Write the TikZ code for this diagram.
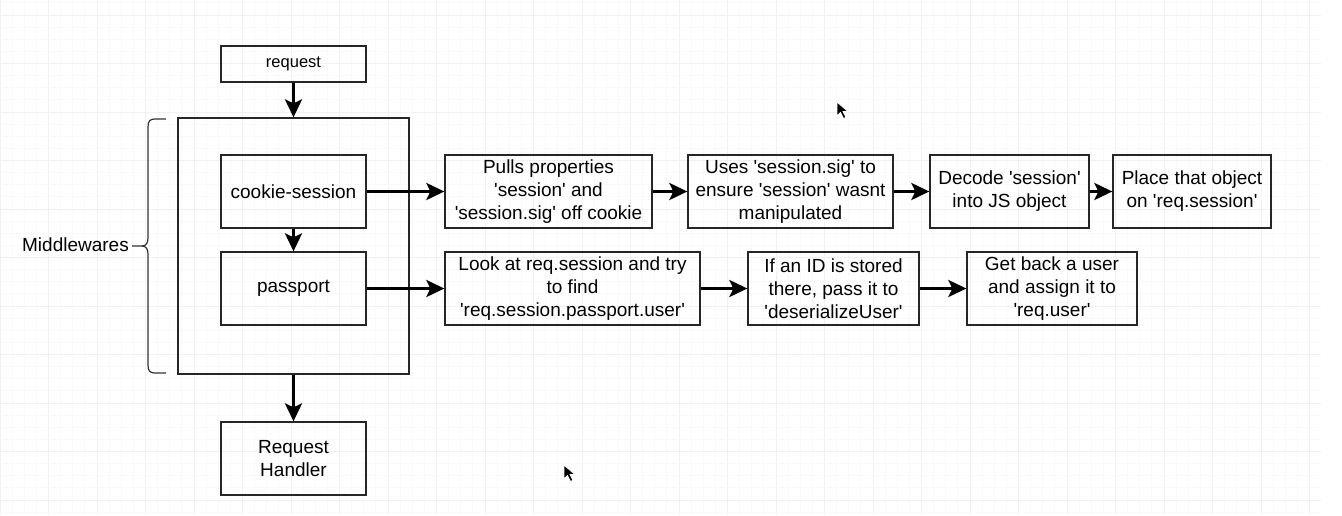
\documentclass[tikz,border=0pt]{standalone}
\usepackage{fontspec}
\setmainfont{Liberation Sans}[Ligatures=TeXOff]
\usetikzlibrary{arrows.meta,positioning}

\tikzset{
  box/.style={draw=black!85, line width=1.3pt, minimum height=73pt, align=center, inner sep=0pt, font=\fontsize{19}{23}\selectfont},
  arr/.style={line width=3pt, -{Stealth[length=18pt,width=17pt,inset=4pt]}},
  minorgrid/.style={draw=gray!5, line width=0.8pt},
  majorgrid/.style={draw=gray!11, line width=1pt}
}

\begin{document}
\begin{tikzpicture}[x=1pt,y=-1pt]
\useasboundingbox (0,0) rectangle (1342,515);

% grid
\foreach \i in {0,...,108} {
  \pgfmathtruncatemacro{\m}{mod(\i,4)}
  \ifnum\m=0 \draw[majorgrid] (\i*12.125,0) -- (\i*12.125,515);
  \else \draw[minorgrid] (\i*12.125,0) -- (\i*12.125,515); \fi
}
\foreach \i in {0,...,42} {
  \pgfmathtruncatemacro{\m}{mod(\i,4)}
  \ifnum\m=1 \draw[majorgrid] (0,2.875+\i*12.125) -- (1321,2.875+\i*12.125);
  \else \draw[minorgrid] (0,2.875+\i*12.125) -- (1321,2.875+\i*12.125); \fi
}

% nodes
\node[box, minimum width=231pt, minimum height=256pt] (mw) at (293.5,246) {};
\node[box, minimum width=145pt, minimum height=36pt, font=\fontsize{16.5}{20}\selectfont] (req) at (293.5,64) {request};
\node[box, minimum width=145pt] (cs) at (293.5,191.5) {cookie-session};
\node[box, minimum width=145pt] (pp) at (293.5,288.5) {passport};
\node[box, minimum width=145pt] (rh) at (293.5,458.5) {Request\\Handler};
\node[anchor=east, font=\fontsize{19}{23}\selectfont, inner sep=0pt] (mwl) at (129,245) {Middlewares};

\node[box, minimum width=207pt] (c1) at (548.5,191.5) {Pulls properties\\'session' and\\'session.sig' off cookie};
\node[box, minimum width=205pt] (c2) at (790.5,191.5) {Uses 'session.sig' to\\ensure 'session' wasnt\\manipulated};
\node[box, minimum width=159pt] (c3) at (1009.5,191.5) {Decode 'session'\\into JS object};
\node[box, minimum width=158pt] (c4) at (1192,191.5) {Place that object\\on 'req.session'};

\node[box, minimum width=255pt] (p1) at (572.5,288.5) {Look at req.session and try\\to find\\'req.session.passport.user'};
\node[box, minimum width=171pt] (p2) at (833.5,288.5) {If an ID is stored\\there, pass it to\\'deserializeUser'};
\node[box, minimum width=170pt] (p3) at (1052,288.5) {Get back a user\\and assign it to\\'req.user'};

% brace
\draw[black!80, line width=1.2pt] (166,119) -- (155,119) .. controls (150,119) and (148,121) .. (148,127)
  -- (148,238) .. controls (148,243) and (146,246) .. (142,246) -- (132,246);
\draw[black!80, line width=1.2pt] (166,373) -- (155,373) .. controls (150,373) and (148,371) .. (148,365)
  -- (148,254) .. controls (148,249) and (146,246) .. (142,246);

% arrows
\draw[arr] (req) -- (mw);
\draw[arr] (cs) -- (pp);
\draw[arr] (mw) -- (rh);
\draw[arr] (cs) -- (c1);
\draw[arr] (c1) -- (c2);
\draw[arr] (c2) -- (c3);
\draw[arr] (c3) -- (c4);
\draw[arr] (pp) -- (p1);
\draw[arr] (p1) -- (p2);
\draw[arr] (p2) -- (p3);

% cursors
\foreach \cx/\cy in {837/102, 564/465}
  \draw[fill=black, draw=white, line width=0.8pt] (\cx,\cy) -- ++(0,14) -- ++(3.5,-3.5) -- ++(3,6) -- ++(2.5,-1.2) -- ++(-3,-5.8) -- ++(5,0) -- cycle;
\end{tikzpicture}
\end{document}
